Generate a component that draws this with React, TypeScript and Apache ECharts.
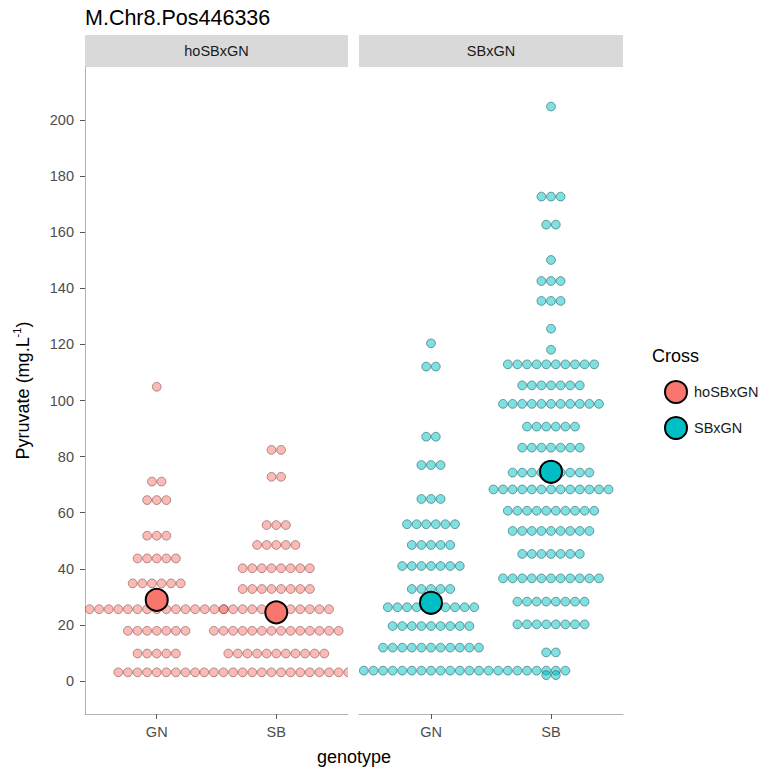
import React, { useEffect, useRef } from 'react';
import * as echarts from 'echarts';

const TITLE = 'M.Chr8.Pos446336';
const CROSSES = ['hoSBxGN', 'SBxGN'];
const GENOTYPES = ['GN', 'SB'];
const Y_TICKS = [0, 20, 40, 60, 80, 100, 120, 140, 160, 180, 200];
const X_TITLE = 'genotype';
const LEGEND_TITLE = 'Cross';

// Dot-plot rows: bin centre (value) and number of stacked dots in that bin
const HO_GN_VALUES = [104.9, 71.1, 64.5, 51.8, 43.7, 34.8, 25.6, 17.9, 9.8, 3.1];
const HO_GN_COUNTS = [1, 2, 3, 3, 5, 6, 15, 7, 5, 9];
const HO_SB_VALUES = [82.4, 72.8, 55.6, 48.5, 40.2, 32.8, 25.6, 17.9, 9.8, 3.1];
const HO_SB_COUNTS = [2, 2, 3, 5, 8, 8, 12, 14, 11, 16];
const SB_GN_VALUES = [120.4, 112.1, 87.1, 77.0, 64.9, 55.9, 48.5, 41.0, 32.8, 26.3, 19.6, 11.9, 3.7];
const SB_GN_COUNTS = [1, 2, 2, 3, 3, 6, 5, 7, 5, 10, 9, 11, 21];
const SB_SB_VALUES = [204.8, 172.7, 162.7, 150.1, 142.6, 135.5, 125.6, 118.1, 112.9, 105.4, 98.8, 90.7, 83.2, 74.3, 68.3, 60.7, 53.5, 45.3, 36.6, 28.3, 20.2, 10.2, 3.7, 2.1];
const SB_SB_COUNTS = [1, 3, 2, 1, 3, 3, 1, 1, 10, 7, 11, 6, 7, 9, 13, 10, 9, 7, 11, 8, 8, 2, 4, 2];

// Group means (large points)
const HO_MEANS = [28.9, 24.5];
const SB_MEANS = [27.9, 74.6];

const COLORS = ['#F8766D', '#00BFC4'];
const DOT_FILLS = ['rgba(248,118,109,0.5)', 'rgba(0,191,196,0.5)'];
const DOT_STROKES = ['rgba(90,40,36,0.5)', 'rgba(0,70,72,0.55)'];
const FONT = '"Liberation Sans", Arial, sans-serif';
const DOT_STEP = 9.6;
const DOT_R = 4.4;

function buildDots(groups: Array<[number, number[], number[]]>) {
  const out: number[][] = [];
  groups.forEach(([geno, vals, counts]) => {
    vals.forEach((v, r) => {
      const n = counts[r];
      for (let i = 0; i < n; i++) out.push([geno, v, i - (n - 1) / 2]);
    });
  });
  return out;
}

export default function App() {
  const ref = useRef<HTMLDivElement>(null);
  useEffect(() => {
    if (!ref.current) return;
    const chart = echarts.init(ref.current, null, { renderer: 'svg' });
    const hoDots = buildDots([[1, HO_GN_VALUES, HO_GN_COUNTS], [2, HO_SB_VALUES, HO_SB_COUNTS]]);
    const sbDots = buildDots([[1, SB_GN_VALUES, SB_GN_COUNTS], [2, SB_SB_VALUES, SB_SB_COUNTS]]);

    const dotSeries = (idx: number, data: number[][]) => ({
      type: 'custom',
      name: CROSSES[idx] + ' dots',
      xAxisIndex: idx,
      yAxisIndex: idx,
      clip: true,
      z: 2,
      data,
      encode: { x: 0, y: 1 },
      renderItem: (params: any, api: any) => {
        const p = api.coord([api.value(0), api.value(1)]);
        const off = api.value(2) * DOT_STEP;
        return {
          type: 'circle',
          shape: { cx: p[0] + off, cy: p[1], r: DOT_R },
          style: { fill: DOT_FILLS[idx], stroke: DOT_STROKES[idx], lineWidth: 0.9 },
        };
      },
    });

    const meanSeries = (idx: number, means: number[]) => ({
      type: 'scatter',
      name: CROSSES[idx],
      xAxisIndex: idx,
      yAxisIndex: idx,
      z: 5,
      symbol: 'circle',
      symbolSize: 22,
      itemStyle: { color: COLORS[idx], borderColor: '#000', borderWidth: 2, opacity: 1 },
      data: means.map((m, i) => [i + 1, m]),
    });

    const xAxisBase = (gi: number) => ({
      type: 'value',
      gridIndex: gi,
      min: 0.4,
      max: 2.6,
      axisLine: { show: true, onZero: false, lineStyle: { color: '#b3b3b3', width: 1 } },
      axisTick: { show: true, customValues: [1, 2], length: 5, lineStyle: { color: '#555' } },
      axisLabel: {
        customValues: [1, 2],
        formatter: (v: number) => GENOTYPES[Math.round(v) - 1] ?? '',
        color: '#4d4d4d',
        fontSize: 14.5,
        fontFamily: FONT,
        margin: 10,
      },
      splitLine: { show: false },
    });

    const option: any = {
      animation: false,
      backgroundColor: '#fff',
      grid: [
        { left: 85, top: 67, width: 263, height: 647 },
        { left: 359, top: 67, width: 264, height: 647 },
      ],
      xAxis: [xAxisBase(0), xAxisBase(1)],
      yAxis: [
        {
          type: 'value',
          gridIndex: 0,
          min: -11.76,
          max: 218.9,
          name: 'Pyruvate (mg.L{sup|-1})',
          nameLocation: 'middle',
          nameGap: 50,
          nameTextStyle: {
            fontSize: 18,
            color: '#000',
            fontFamily: FONT,
            lineHeight: 24,
            rich: { sup: { fontSize: 11, verticalAlign: 'top', lineHeight: 24, fontFamily: FONT, color: '#000' } },
          },
          axisLine: { show: true, lineStyle: { color: '#b3b3b3', width: 1 } },
          axisTick: { show: true, customValues: Y_TICKS, length: 5, lineStyle: { color: '#555' } },
          axisLabel: { customValues: Y_TICKS, color: '#4d4d4d', fontSize: 14.5, fontFamily: FONT, margin: 11 },
          splitLine: { show: false },
        },
        {
          type: 'value',
          gridIndex: 1,
          min: -11.76,
          max: 218.9,
          axisLine: { show: false },
          axisTick: { show: false },
          axisLabel: { show: false },
          splitLine: { show: false },
        },
      ],
      legend: {
        data: CROSSES,
        orient: 'vertical',
        left: 659,
        top: 375,
        itemWidth: 22,
        itemHeight: 22,
        itemGap: 12,
        icon: 'circle',
        textStyle: { fontSize: 14.5, color: '#1a1a1a', fontFamily: FONT, padding: [0, 0, 0, 2] },
      },
      graphic: [
        { type: 'text', x: 85, y: 18, style: { text: TITLE, font: `21.5px ${FONT}`, fill: '#000', align: 'left', verticalAlign: 'middle' } },
        { type: 'rect', shape: { x: 85, y: 35, width: 263, height: 32 }, style: { fill: '#d9d9d9' } },
        { type: 'rect', shape: { x: 359, y: 35, width: 264, height: 32 }, style: { fill: '#d9d9d9' } },
        { type: 'text', x: 216.5, y: 51, style: { text: CROSSES[0], font: `14.5px ${FONT}`, fill: '#1a1a1a', align: 'center', verticalAlign: 'middle' } },
        { type: 'text', x: 491, y: 51, style: { text: CROSSES[1], font: `14.5px ${FONT}`, fill: '#1a1a1a', align: 'center', verticalAlign: 'middle' } },
        { type: 'text', x: 354, y: 757, style: { text: X_TITLE, font: `18px ${FONT}`, fill: '#000', align: 'center', verticalAlign: 'middle' } },
        { type: 'text', x: 652, y: 356, style: { text: LEGEND_TITLE, font: `18px ${FONT}`, fill: '#000', align: 'left', verticalAlign: 'middle' } },
      ],
      series: [
        dotSeries(0, hoDots),
        dotSeries(1, sbDots),
        meanSeries(0, HO_MEANS),
        meanSeries(1, SB_MEANS),
      ],
    };
    chart.setOption(option);
    return () => chart.dispose();
  }, []);
  return (
    <div
      ref={ref}
      style={{ position: 'fixed', left: 0, top: 0, width: 760, height: 769, background: '#fff' }}
    />
  );
}
